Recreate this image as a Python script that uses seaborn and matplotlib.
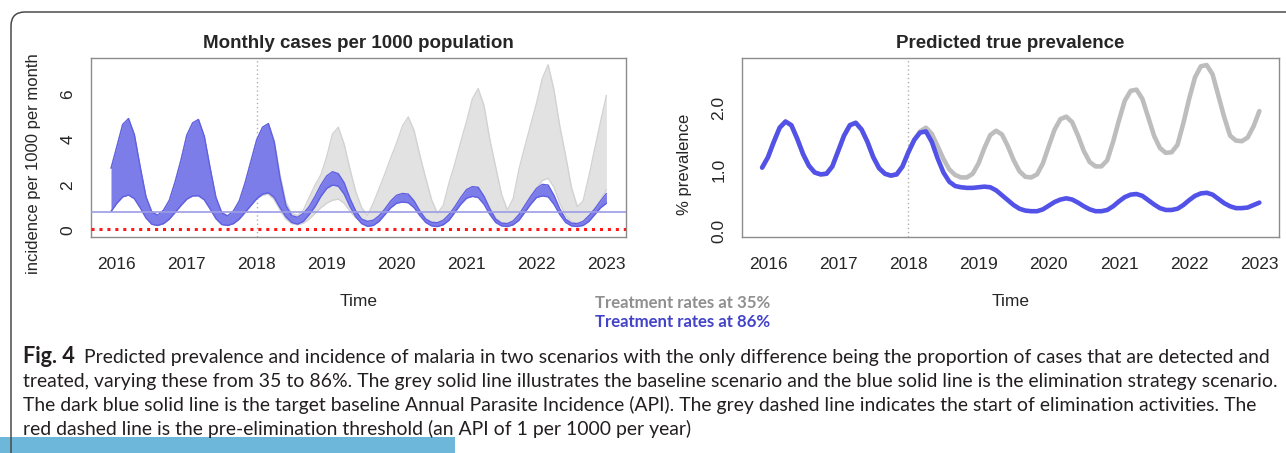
import numpy as np
import matplotlib
matplotlib.use("Agg")
import matplotlib.pyplot as plt
from matplotlib.patches import FancyBboxPatch, Rectangle
from matplotlib.transforms import IdentityTransform
import seaborn as sns

# monthly model output, Dec 2015 .. Jan 2023 (86 months)
months = np.arange(86)
time = 2015 + 11 / 12 + months / 12

# incidence per 1000 per month, band = lower/upper, 86% treatment
inc86_hi = [2.74, 3.70, 4.67, 4.93, 4.22, 2.80, 1.48, 0.81, 0.67, 0.89,
            1.33, 2.15, 3.10, 4.20, 4.74, 4.89, 4.15, 2.75, 1.45, 0.78,
            0.64, 0.86, 1.30, 2.10, 3.05, 4.00,
            4.55, 4.71, 3.90, 2.30, 1.10, 0.65, 0.58, 0.75, 1.05, 1.50,
            2.00, 2.40, 2.59, 2.50, 2.10, 1.40, 0.85, 0.50, 0.40, 0.45,
            0.65, 0.95, 1.30, 1.55, 1.63, 1.60, 1.30, 0.85, 0.50, 0.36,
            0.34, 0.45, 0.70, 1.05, 1.45, 1.80, 1.93, 1.90, 1.50, 0.95,
            0.50, 0.32, 0.30, 0.42, 0.70, 1.10, 1.50, 1.85, 2.03, 2.00,
            1.55, 0.95, 0.50, 0.32, 0.30, 0.40, 0.65, 0.95, 1.30, 1.63]
inc86_lo = [0.84, 1.20, 1.48, 1.56, 1.40, 1.00, 0.55, 0.27, 0.22, 0.30,
            0.50, 0.80, 1.10, 1.38, 1.52, 1.53, 1.35, 0.95, 0.52, 0.26,
            0.22, 0.30, 0.50, 0.80, 1.10, 1.40,
            1.60, 1.66, 1.45, 1.00, 0.60, 0.35, 0.28, 0.40, 0.70, 1.05,
            1.50, 1.85, 2.00, 1.95, 1.60, 1.05, 0.60, 0.30, 0.18, 0.22,
            0.40, 0.70, 1.00, 1.20, 1.25, 1.22, 1.00, 0.65, 0.35, 0.20,
            0.17, 0.25, 0.45, 0.80, 1.15, 1.42, 1.50, 1.45, 1.15, 0.70,
            0.35, 0.20, 0.17, 0.25, 0.45, 0.80, 1.15, 1.45, 1.52, 1.48,
            1.15, 0.70, 0.35, 0.20, 0.17, 0.22, 0.40, 0.70, 1.00, 1.20]

# 35% treatment: same as above until Jan 2018
inc35_hi = inc86_hi[:26] + [
    4.55, 4.71, 3.95, 2.45, 1.25, 0.75, 0.66, 0.90, 1.45, 2.00,
    2.45, 3.25, 4.25, 4.55, 3.80, 2.70, 1.70, 1.00, 0.66, 1.20,
    1.85, 2.50, 3.20, 3.85, 4.60, 5.00, 4.40, 3.30, 2.30, 1.35,
    0.75, 1.10, 2.10, 2.95, 3.90, 4.80, 5.80, 6.25, 5.50, 4.00,
    2.80, 1.60, 0.90, 1.40, 2.70, 3.70, 4.65, 5.60, 6.70, 7.30,
    6.20, 4.60, 3.30, 1.90, 1.05, 1.30, 2.40, 3.60, 4.80, 5.95]
inc35_lo = inc86_lo[:26] + [
    1.55, 1.60, 1.35, 0.90, 0.50, 0.30, 0.25, 0.32, 0.50, 0.75,
    1.00, 1.20, 1.33, 1.38, 1.20, 0.85, 0.55, 0.38, 0.35, 0.40,
    0.55, 0.80, 1.05, 1.30, 1.45, 1.45, 1.25, 0.85, 0.50, 0.32,
    0.30, 0.35, 0.55, 0.85, 1.20, 1.55, 1.80, 1.85, 1.50, 1.00,
    0.55, 0.35, 0.30, 0.35, 0.60, 0.95, 1.40, 1.85, 2.20, 2.30,
    1.90, 1.20, 0.65, 0.38, 0.30, 0.38, 0.60, 0.95, 1.35, 1.80]

# % prevalence
prev86 = [1.03, 1.20, 1.45, 1.68, 1.78, 1.72, 1.50, 1.25, 1.06, 0.95,
          0.92, 0.93, 1.05, 1.30, 1.55, 1.72, 1.76, 1.65, 1.45, 1.20,
          1.02, 0.93, 0.90, 0.92, 1.05, 1.28, 1.48, 1.60, 1.62, 1.45,
          1.18, 0.95, 0.80, 0.73, 0.71, 0.70, 0.70, 0.71, 0.72, 0.71,
          0.66, 0.58, 0.50, 0.42, 0.36, 0.33, 0.32, 0.32, 0.35, 0.41,
          0.47, 0.51, 0.53, 0.51, 0.46, 0.40, 0.35, 0.32, 0.32, 0.34,
          0.40, 0.48, 0.55, 0.59, 0.60, 0.57, 0.50, 0.43, 0.37, 0.34,
          0.34, 0.36, 0.42, 0.50, 0.57, 0.61, 0.62, 0.59, 0.52, 0.45,
          0.40, 0.37, 0.37, 0.38, 0.42, 0.46]
prev35 = prev86[:26] + [
    1.48, 1.62, 1.68, 1.58, 1.38, 1.17, 1.00, 0.91, 0.87, 0.87,
    0.93, 1.10, 1.35, 1.56, 1.63, 1.57, 1.38, 1.15, 0.97, 0.88,
    0.87, 0.92, 1.10, 1.38, 1.65, 1.82, 1.86, 1.77, 1.55, 1.30,
    1.12, 1.05, 1.05, 1.15, 1.45, 1.80, 2.12, 2.28, 2.30, 2.15,
    1.85, 1.55, 1.35, 1.27, 1.28, 1.40, 1.75, 2.15, 2.50, 2.68,
    2.70, 2.55, 2.20, 1.85, 1.55, 1.47, 1.46, 1.52, 1.70, 1.95]

years = [2016, 2017, 2018, 2019, 2020, 2021, 2022, 2023]
target_api = 10 / 12      # baseline API target, per month
pre_elim = 1 / 12         # 1 per 1000 per year
elim_start = 2018

caption = [
    "Predicted prevalence and incidence of malaria in two scenarios with the only difference being the proportion of cases that are detected and",
    "treated, varying these from 35 to 86%. The grey solid line illustrates the baseline scenario and the blue solid line is the elimination strategy scenario.",
    "The dark blue solid line is the target baseline Annual Parasite Incidence (API). The grey dashed line indicates the start of elimination activities. The",
    "red dashed line is the pre-elimination threshold (an API of 1 per 1000 per year)",
]

sns.set_style("white")
plt.rcParams['font.family'] = ['Liberation Sans', 'DejaVu Sans']

W, H = 1286, 453
fig = plt.figure(figsize=(W / 100, H / 100), dpi=100)

def fx(x):
    return x / W

def fy(y):
    return 1 - y / H

ax1 = fig.add_axes([fx(91), fy(237), 535 / W, 179 / H])
ax2 = fig.add_axes([fx(742), fy(237), 537 / W, 179 / H])

grey_fill, grey_edge = '#e2e2e2', '#d2d2d2'
blue_fill, blue_edge = '#7d7dea', '#6060e2'

# left: monthly incidence bands
ax1.fill_between(time, inc35_lo, inc35_hi, color=grey_fill, lw=0, zorder=1)
sns.lineplot(x=time, y=inc35_hi, ax=ax1, color=grey_edge, lw=1, zorder=1.5)
sns.lineplot(x=time, y=inc35_lo, ax=ax1, color=grey_edge, lw=1, zorder=1.5)
ax1.fill_between(time, inc86_lo, inc86_hi, color=blue_fill, lw=0, zorder=2)
sns.lineplot(x=time, y=inc86_hi, ax=ax1, color=blue_edge, lw=1, zorder=2.5)
sns.lineplot(x=time, y=inc86_lo, ax=ax1, color=blue_edge, lw=1, zorder=2.5)
ax1.axhline(target_api, color='#9c9ce4', lw=1.2, zorder=3)
ax1.axhline(pre_elim, color='#ff1a1a', lw=2.2, ls=(0, (1, 1.6)), zorder=4)
ax1.axvline(elim_start, color='#b0b0b0', lw=1, ls=(0, (1, 2)), zorder=0.5)
ax1.set_xlim(2015.63, 2023.28)
ax1.set_ylim(-0.29, 7.6)
ax1.set_yticks([0, 2, 4, 6])
ax1.set_yticklabels(['0', '2', '4', '6'])
ax1.set_title("Monthly cases per 1000 population", fontsize=13.5,
              fontweight='bold', pad=7)
ax1.set_ylabel("incidence per 1000 per month", fontsize=12)

# right: prevalence lines
sns.lineplot(x=time, y=prev35, ax=ax2, color='#bdbdbd', lw=3.3, zorder=2)
sns.lineplot(x=time, y=prev86, ax=ax2, color='#5252e8', lw=3.3, zorder=3)
ax2.axvline(elim_start, color='#b0b0b0', lw=1, ls=(0, (1, 2)), zorder=0.5)
ax2.set_xlim(2015.63, 2023.28)
ax2.set_ylim(-0.1, 2.815)
ax2.set_yticks([0, 0.5, 1, 1.5, 2, 2.5])
ax2.set_yticklabels(['0.0', '', '1.0', '', '2.0', ''])
ax2.set_title("Predicted true prevalence", fontsize=13.5,
              fontweight='bold', pad=7)
ax2.set_ylabel("% prevalence", fontsize=12)

for ax in (ax1, ax2):
    ax.set_xticks(years)
    ax.set_xticklabels([str(y) for y in years])
    ax.set_xlabel("Time", fontsize=12.5)
    ax.xaxis.set_label_coords(0.5, -0.318)
    ax.yaxis.set_label_coords(-0.093, 0.408)
    ax.tick_params(axis='both', direction='out', length=5.8, width=1,
                   color='#777777', labelsize=12.5)
    ax.tick_params(axis='x', pad=8.5)
    ax.tick_params(axis='y', pad=5.5, labelrotation=90)
    for lbl in ax.get_yticklabels():
        lbl.set_va('center')
    for sp in ax.spines.values():
        sp.set_visible(True)
        sp.set_color('#8c8c8c')
        sp.set_linewidth(1)
    ax.grid(False)

# scenario legend as coloured text
renderer = fig.canvas.get_renderer()

def fit(t, width):
    w = t.get_window_extent(renderer).width
    t.set_fontsize(t.get_fontsize() * width / w)

cap_font = ['Lato', 'DejaVu Sans']
t35 = fig.text(fx(595), fy(308), "Treatment rates at 35%", color='#8f8f8f',
               fontweight='bold', family=cap_font, fontsize=12, va='baseline')
fit(t35, 175)
t86 = fig.text(fx(595), fy(327), "Treatment rates at 86%", color='#4343c8',
               fontweight='bold', family=cap_font, fontsize=t35.get_fontsize(),
               va='baseline')

# figure caption
cap_col = '#231f20'
probe = fig.text(0, 0, caption[0], family=cap_font, fontsize=12)
fit(probe, 1180)
cap_size = probe.get_fontsize()
probe.remove()

tag = fig.text(fx(23), fy(363), "Fig. 4", fontweight='bold', family=cap_font,
               color=cap_col, fontsize=cap_size * 1.12, va='baseline', zorder=5)
tag_end = tag.get_window_extent(renderer).x1
first = fig.text((tag_end + 9) / W, fy(363), caption[0], family=cap_font,
                 color=cap_col, fontsize=cap_size, va='baseline', zorder=5)
fit(first, 1275 - tag_end - 9)
for line, yb in zip(caption[1:], [387, 411, 435]):
    fig.text(fx(23), fy(yb), line, family=cap_font, color=cap_col,
             fontsize=first.get_fontsize(), va='baseline', zorder=5)

# rounded frame and blue strip
frame = FancyBboxPatch((11, -60), 1400, 501,
                       boxstyle="round,pad=0,rounding_size=14",
                       transform=IdentityTransform(), fill=False,
                       edgecolor='#4a4a4a', lw=1.1, zorder=1)
fig.add_artist(frame)
strip = Rectangle((0, 0), 455, 16, transform=IdentityTransform(),
                  color='#6db8da', lw=0, zorder=0)
fig.add_artist(strip)

fig.savefig("out.png", dpi=100)
